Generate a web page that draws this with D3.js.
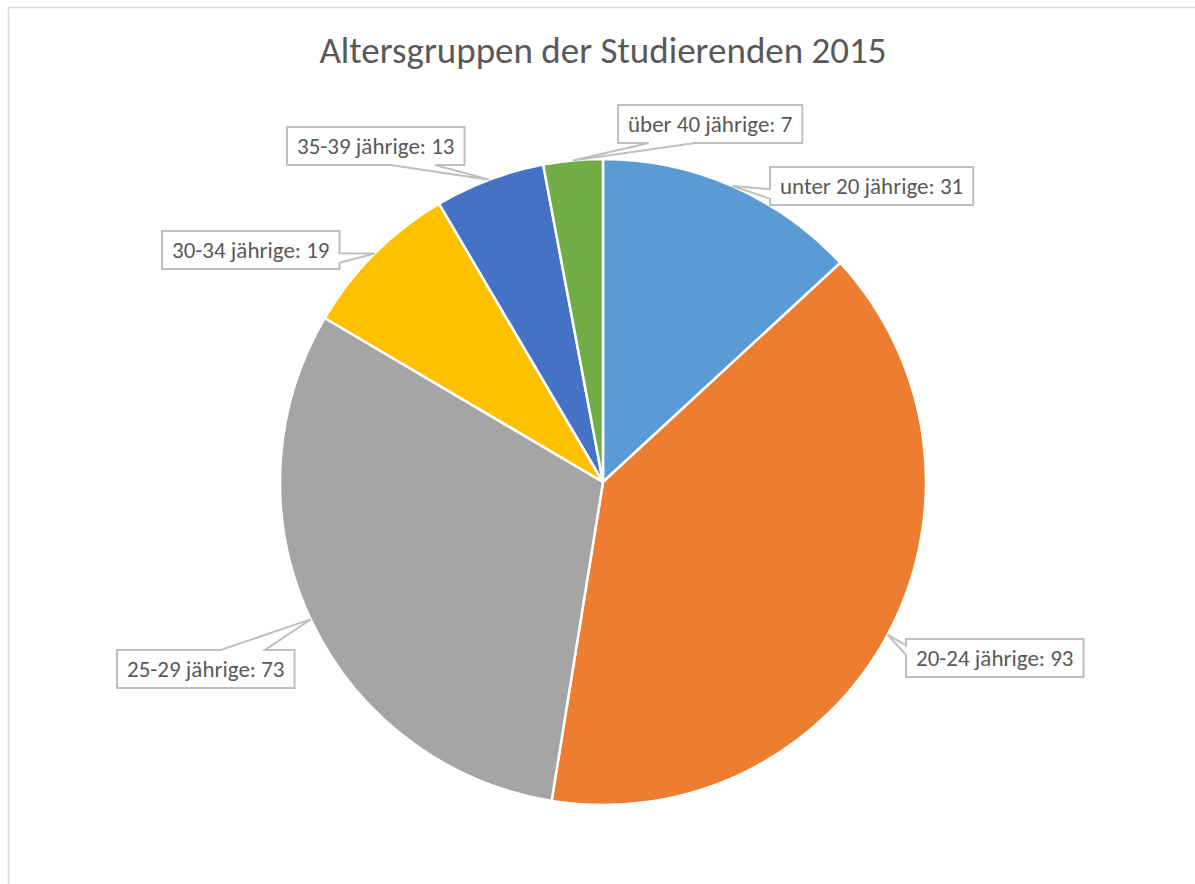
<!DOCTYPE html>
<html>
<head>
<meta charset="utf-8">
<script src="https://cdn.jsdelivr.net/npm/d3@7"></script>
<style>
  body { margin: 0; background: #fff; }
  svg { display: block; }
</style>
</head>
<body>
<script>
// Altersgruppen der Studierenden 2015 - pie with callout labels
var width = 1195, height = 884;
var cx = 603, cy = 482, radius = 323;

var categories = ["unter 20 jährige", "20-24 jährige", "25-29 jährige", "30-34 jährige", "35-39 jährige", "über 40 jährige"];
var values = [31, 93, 73, 19, 13, 7];
var colors = ["#5B9BD5", "#ED7D31", "#A5A5A5", "#FFC000", "#4472C4", "#70AD47"];

// label box top-left corners and tail side (layout only)
var boxPos = [[770, 167], [906, 639], [117, 650], [162, 231], [287, 127], [618, 105]];
var tailSide = ["left", "left", "top", "right", "bottom", "bottom"];

var data = categories.map((c, i) => ({name: c, value: values[i]}));

const svg = d3.select("body")
    .append("svg")
    .attr("width", width)
    .attr("height", height);

// chart frame
svg.append("rect")
    .attr("x", 8.5).attr("y", 7.5)
    .attr("width", 1400).attr("height", 1200)
    .attr("fill", "none")
    .attr("stroke", "#D9D9D9")
    .attr("stroke-width", 1.5);

svg.append("text")
    .attr("x", 603)
    .attr("y", 63)
    .attr("text-anchor", "middle")
    .attr("font-family", "Carlito, Lato, 'Open Sans', sans-serif")
    .attr("font-weight", 300)
    .attr("font-size", 37)
    .attr("fill", "#595959")
    .text("Altersgruppen der Studierenden 2015");

var pie = d3.pie().sort(null).value(d => d.value);
var arcs = pie(data);

var arc = d3.arc().innerRadius(0).outerRadius(radius);

var g = svg.append("g").attr("transform", `translate(${cx},${cy})`);

g.selectAll("path")
    .data(arcs)
    .join("path")
    .attr("d", arc)
    .attr("fill", (d, i) => colors[i])
    .attr("stroke", "#fff")
    .attr("stroke-width", 2.5)
    .attr("stroke-linejoin", "round");

// callout labels
var pad = 10, boxH = 38;
var labels = svg.append("g");

arcs.forEach(function(d, i) {
    var mid = (d.startAngle + d.endAngle) / 2;
    var tip = [cx + radius * Math.sin(mid), cy - radius * Math.cos(mid)];

    var lg = labels.append("g");
    var txt = lg.append("text")
        .attr("font-family", "Carlito, Lato, 'Open Sans', sans-serif")
        .attr("font-size", 23)
        .attr("fill", "#595959")
        .text(d.data.name + ": " + d.data.value);
    var tw = txt.node().getComputedTextLength();

    var x0 = boxPos[i][0], y0 = boxPos[i][1];
    var w = tw + pad * 2, h = boxH;
    txt.attr("x", x0 + pad).attr("y", y0 + h / 2 + 8);

    // wedge rect callout outline
    var bx = x0 + w / 2, by = y0 + h / 2;
    var below = tip[1] > by, right = tip[0] > bx;
    var ya = below ? y0 + h * 7 / 12 : y0 + h * 2 / 12;
    var yb = below ? y0 + h * 10 / 12 : y0 + h * 5 / 12;
    var xa = right ? x0 + w * 7 / 12 : x0 + w * 2 / 12;
    var xb = right ? x0 + w * 10 / 12 : x0 + w * 5 / 12;
    var pts;
    if (tailSide[i] == "left") {
        pts = [[x0, y0], [x0 + w, y0], [x0 + w, y0 + h], [x0, y0 + h], [x0, yb], tip, [x0, ya]];
    } else if (tailSide[i] == "right") {
        pts = [[x0, y0], [x0 + w, y0], [x0 + w, ya], tip, [x0 + w, yb], [x0 + w, y0 + h], [x0, y0 + h]];
    } else if (tailSide[i] == "top") {
        pts = [[x0, y0], [xa, y0], tip, [xb, y0], [x0 + w, y0], [x0 + w, y0 + h], [x0, y0 + h]];
    } else {
        pts = [[x0, y0], [x0 + w, y0], [x0 + w, y0 + h], [xb, y0 + h], tip, [xa, y0 + h], [x0, y0 + h]];
    }
    lg.insert("path", "text")
        .attr("d", d3.line()(pts) + "Z")
        .attr("fill", "#fff")
        .attr("stroke", "#BFBFBF")
        .attr("stroke-width", 2);
});
</script>
</body>
</html>
